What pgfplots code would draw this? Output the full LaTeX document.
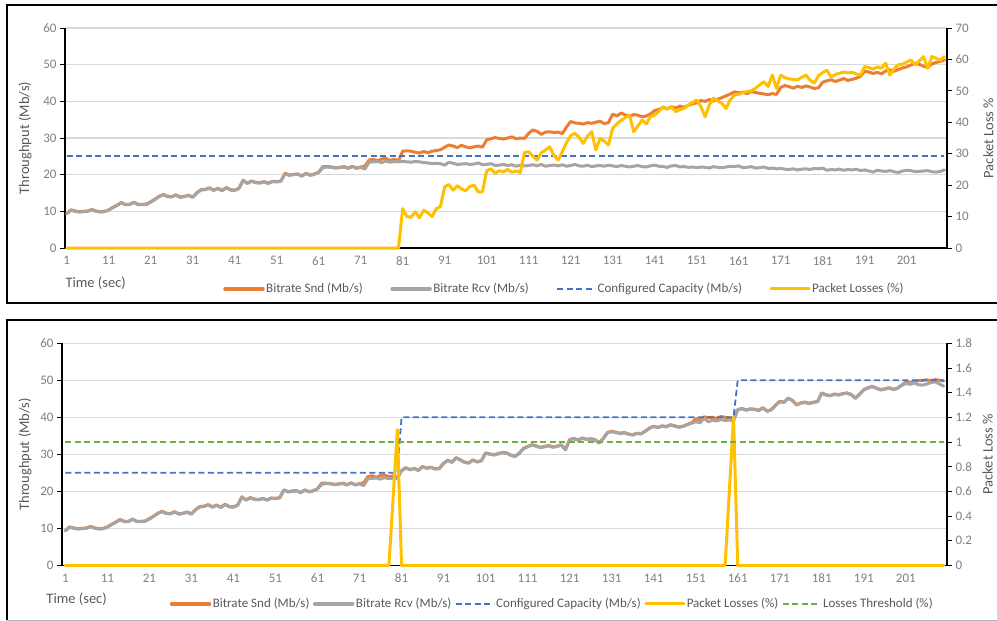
\documentclass[border=0pt]{standalone}
\usepackage{pgfplots}
\pgfplotsset{compat=1.18}
\usepackage{pgfplotstable}
\usepackage{fontspec}
\setmainfont{Carlito}
\definecolor{cOrange}{HTML}{ED7D31}
\definecolor{cGray}{HTML}{A5A5A5}
\definecolor{cBlue}{HTML}{4472C4}
\definecolor{cYellow}{HTML}{FFC000}
\definecolor{cGreen}{HTML}{70AD47}
\definecolor{cGrid}{HTML}{D9D9D9}
\definecolor{cTick}{HTML}{7F7F7F}
\definecolor{cTitle}{HTML}{595959}

\pgfplotstableread{
t rT sT lT rB sB
1 9.3 9.4 0 9.3 9.4
2 10.3 10.4 0 10.3 10.4
3 10.0 10.1 0 10.0 10.1
4 9.8 9.9 0 9.8 9.9
5 9.9 10.0 0 9.9 10.0
6 10.0 10.1 0 10.0 10.1
7 10.4 10.5 0 10.4 10.5
8 10.0 10.1 0 10.0 10.1
9 9.8 9.9 0 9.8 9.9
10 9.9 10.0 0 9.9 10.0
11 10.3 10.4 0 10.3 10.4
12 11.0 11.1 0 11.0 11.1
13 11.6 11.7 0 11.6 11.7
14 12.3 12.4 0 12.3 12.4
15 11.8 11.9 0 11.8 11.9
16 11.8 11.9 0 11.8 11.9
17 12.4 12.5 0 12.4 12.5
18 11.8 11.9 0 11.8 11.9
19 11.8 11.9 0 11.8 11.9
20 11.9 12.0 0 11.9 12.0
21 12.5 12.6 0 12.5 12.6
22 13.2 13.3 0 13.2 13.3
23 14.0 14.1 0 14.0 14.1
24 14.5 14.6 0 14.5 14.6
25 14.0 14.1 0 14.0 14.1
26 13.9 14.0 0 13.9 14.0
27 14.4 14.5 0 14.4 14.5
28 13.8 13.9 0 13.8 13.9
29 14.0 14.1 0 14.0 14.1
30 14.3 14.4 0 14.3 14.4
31 13.8 13.9 0 13.8 13.9
32 15.0 15.1 0 15.0 15.1
33 15.8 15.9 0 15.8 15.9
34 15.9 16.0 0 15.9 16.0
35 16.3 16.4 0 16.3 16.4
36 15.7 15.8 0 15.7 15.8
37 16.2 16.3 0 16.2 16.3
38 15.6 15.7 0 15.6 15.7
39 16.4 16.5 0 16.4 16.5
40 15.8 15.9 0 15.8 15.9
41 15.7 15.8 0 15.7 15.8
42 16.2 16.3 0 16.2 16.3
43 18.4 18.5 0 18.4 18.5
44 17.6 17.7 0 17.6 17.7
45 18.2 18.3 0 18.2 18.3
46 17.8 17.9 0 17.8 17.9
47 17.7 17.8 0 17.7 17.8
48 18.0 18.1 0 18.0 18.1
49 17.6 17.7 0 17.6 17.7
50 18.1 18.2 0 18.1 18.2
51 18.0 18.1 0 18.0 18.1
52 18.2 18.3 0 18.2 18.3
53 20.3 20.4 0 20.3 20.4
54 19.8 19.9 0 19.8 19.9
55 20.0 20.1 0 20.0 20.1
56 20.1 20.2 0 20.1 20.2
57 19.6 19.7 0 19.6 19.7
58 20.3 20.4 0 20.3 20.4
59 19.8 19.9 0 19.8 19.9
60 20.1 20.2 0 20.1 20.2
61 20.6 20.7 0 20.6 20.7
62 21.9 22.2 0 21.9 22.2
63 22.1 22.2 0 22.1 22.2
64 22.0 22.1 0 22.0 22.1
65 21.8 21.9 0 21.8 21.9
66 21.9 22.0 0 21.9 22.0
67 22.1 22.2 0 22.1 22.2
68 21.7 21.8 0 21.7 21.8
69 22.2 22.3 0 22.2 22.3
70 21.7 21.8 0 21.7 21.8
71 22.0 22.1 0 22.0 22.1
72 21.5 22.3 0 21.5 22.3
73 23.4 24.0 0 23.4 24.0
74 23.5 24.2 0 23.5 24.2
75 23.6 23.8 0 23.6 23.8
76 23.3 24.3 0 23.3 24.3
77 23.7 24.4 0 23.7 24.4
78 23.4 23.9 0 23.4 23.9
79 23.6 24.2 0 23.6 24.2
80 23.5 23.8 0 23.5 23.8
81 23.6 26.4 12.5 25.5 25.6
82 23.5 26.5 10.0 26.3 26.4
83 23.4 26.4 9.8 25.8 25.9
84 23.6 26.1 11.5 26.1 26.2
85 23.5 25.9 9.6 25.6 25.7
86 23.3 26.3 12.0 26.6 26.7
87 23.2 26.0 11.2 26.2 26.3
88 23.0 26.4 10.0 26.4 26.5
89 23.1 26.6 12.5 26.0 26.1
90 23.0 26.8 13.2 26.1 26.2
91 22.6 27.5 19.5 27.5 27.6
92 23.4 28.1 20.2 28.3 28.4
93 23.1 27.8 18.4 27.8 27.9
94 22.8 27.4 19.8 29.0 29.1
95 22.9 28.0 18.8 28.4 28.5
96 23.0 27.6 18.2 27.8 27.9
97 22.8 27.3 19.6 27.6 27.7
98 22.9 27.6 20.0 28.4 28.5
99 23.2 27.8 17.8 27.9 28.0
100 22.7 27.5 17.9 28.2 28.3
101 22.8 29.5 24.6 30.3 30.4
102 23.0 29.8 25.2 30.0 30.1
103 22.5 30.1 23.8 29.8 29.9
104 22.6 29.9 24.6 30.1 30.2
105 22.8 29.7 24.2 30.4 30.5
106 22.5 30.0 25.0 30.3 30.4
107 22.7 30.3 24.1 29.7 29.8
108 22.3 29.8 24.5 29.4 29.5
109 22.6 30.0 24.0 30.2 30.3
110 22.4 29.9 30.4 31.5 31.6
111 22.5 31.3 30.6 32.0 32.1
112 22.7 32.2 29.2 32.5 32.6
113 22.4 31.8 28.0 32.2 32.3
114 22.8 31.0 30.3 31.8 31.9
115 22.3 31.6 31.2 32.0 32.1
116 22.5 31.7 32.2 32.3 32.4
117 22.6 31.5 29.5 31.9 32.0
118 22.4 31.6 28.0 32.1 32.2
119 22.7 31.2 30.6 32.5 32.6
120 22.3 33.0 33.5 31.2 31.3
121 22.5 34.5 35.8 33.9 34.0
122 22.8 34.1 36.5 34.2 34.3
123 22.4 34.0 35.2 33.8 33.9
124 22.3 33.8 33.3 34.3 34.4
125 22.6 34.2 35.6 34.0 34.1
126 22.2 34.0 37.0 34.1 34.2
127 22.4 34.3 31.2 33.9 34.0
128 22.5 34.6 34.9 33.0 33.1
129 22.3 33.9 34.0 34.2 34.3
130 22.6 34.2 32.8 35.8 35.9
131 22.4 36.5 38.1 36.1 36.2
132 22.2 36.0 39.5 35.9 36.0
133 22.5 36.8 40.6 35.6 35.7
134 22.3 36.3 41.5 35.8 35.9
135 22.1 35.9 42.3 35.4 35.5
136 22.3 36.4 37.0 35.2 35.3
137 22.5 36.2 38.8 35.6 35.7
138 22.2 35.8 40.7 35.5 35.6
139 22.1 36.0 39.5 36.2 36.3
140 22.4 36.6 41.8 37.0 37.1
141 22.6 37.5 42.3 37.5 37.6
142 22.3 37.8 43.5 37.2 37.3
143 22.2 38.3 45.0 37.6 37.7
144 22.0 38.0 44.2 37.4 37.5
145 22.4 38.5 44.8 37.9 38.0
146 22.5 38.2 43.4 37.6 37.7
147 22.1 38.7 44.0 37.3 37.4
148 22.2 38.4 44.4 37.5 37.6
149 22.0 38.9 45.5 38.0 38.1
150 22.1 39.3 46.3 38.4 38.5
151 21.9 39.6 47.1 38.8 39.6
152 22.1 40.2 45.0 38.5 39.2
153 22.0 40.0 41.8 39.7 40.1
154 21.8 40.5 45.5 38.8 39.9
155 22.2 40.1 47.7 39.2 40.0
156 22.0 40.6 46.8 39.0 39.7
157 21.9 41.0 46.0 39.4 40.2
158 22.1 41.5 44.4 39.1 40.0
159 22.3 42.0 47.2 39.3 39.8
160 22.2 42.6 48.7 39.0 39.6
161 22.4 42.3 48.9 42.0 42.1
162 21.9 42.5 49.5 42.3 42.4
163 22.0 42.1 49.8 41.9 42.0
164 22.2 42.7 50.0 42.2 42.3
165 21.8 42.4 50.8 42.1 42.2
166 21.9 42.2 51.9 41.8 41.9
167 22.1 42.0 52.9 42.5 42.6
168 21.7 41.8 51.4 41.6 41.7
169 21.8 42.1 55.0 42.0 42.1
170 21.6 41.9 50.8 43.2 43.3
171 21.7 43.8 55.0 44.2 44.3
172 21.5 44.3 54.2 44.0 44.1
173 21.4 44.0 53.8 45.1 45.2
174 21.6 43.6 53.6 44.5 44.6
175 21.3 44.1 53.5 43.3 43.4
176 21.5 43.8 54.3 43.8 43.9
177 21.6 44.2 55.0 44.0 44.1
178 21.4 43.9 53.4 43.7 43.8
179 21.7 43.5 52.5 44.0 44.1
180 21.6 43.7 54.8 44.2 44.3
181 21.8 45.2 55.8 46.5 46.6
182 21.2 45.6 56.6 46.0 46.1
183 21.4 45.9 54.4 45.8 45.9
184 21.3 45.4 55.2 46.2 46.3
185 21.5 45.8 55.6 46.0 46.1
186 21.2 46.2 56.0 46.3 46.4
187 21.4 45.7 55.7 46.5 46.6
188 21.3 46.0 55.9 46.1 46.2
189 21.5 46.3 55.4 45.1 45.2
190 21.1 46.8 55.0 46.2 46.3
191 21.3 48.2 57.7 47.4 47.5
192 21.0 48.0 57.4 47.9 48.0
193 20.7 47.6 56.9 48.3 48.4
194 21.2 47.9 57.6 47.8 47.9
195 21.0 47.5 57.2 47.4 47.5
196 20.9 48.3 58.8 47.6 47.7
197 21.1 48.6 55.0 47.9 48.0
198 20.8 48.2 57.0 47.5 47.6
199 20.6 48.7 58.3 47.8 47.9
200 21.0 49.1 58.5 48.6 48.7
201 21.2 49.4 59.2 49.2 49.5
202 21.1 49.9 59.8 48.9 49.3
203 20.8 50.4 58.3 49.3 49.7
204 20.9 50.1 59.5 48.8 49.9
205 21.0 49.6 60.9 48.7 50.0
206 21.1 49.3 57.2 49.0 50.1
207 20.8 50.2 60.9 49.4 49.9
208 20.7 50.6 60.4 49.6 50.2
209 20.9 50.9 59.8 49.0 50.0
210 21.3 51.3 60.9 48.4 49.8
}\data

\pgfplotsset{
  base/.style={
    scale only axis,
    xtick={1,11,...,201},
    xtick style={draw=none},
    ytick style={black,line width=0.9bp},
    major tick length=5bp,
    tick align=outside,
    tick label style={font=\fontsize{13bp}{15bp}\selectfont, text=cTick},
    /pgf/number format/assume math mode=true,
    label style={font=\fontsize{14.5bp}{17bp}\selectfont, text=cTitle},
    axis line style={black, line width=1.1bp},
    clip=false,
    every axis plot/.append style={line join=round, line cap=round},
    legend style={draw=none, fill=none, font=\fontsize{13bp}{15bp}\selectfont, text=cTitle,
      inner xsep=0pt, inner ysep=0pt, nodes={inner sep=1.5bp}},
    legend cell align=left,
    legend image code/.code={\draw[##1] (0bp,0bp) -- (38bp,0bp);},
  },
  prim/.style={base, axis x line*=bottom, axis y line*=left,
    ymin=0, ymax=60, ytick distance=10, ymajorgrids,
    grid style={cGrid, line width=1.2bp},
    ylabel={Throughput (Mb/s)}, xlabel={Time (sec)}},
  sec/.style={base, axis x line=none, axis y line*=right, xtick=\empty,
    axis line style={black, line width=1.6bp}},
  snd/.style={cOrange, line width=3bp},
  rcv/.style={cGray, line width=3bp},
  cap/.style={cBlue, line width=1.8bp, dash pattern=on 6bp off 3.5bp, line cap=butt},
  loss/.style={cYellow, line width=3bp},
  thr/.style={cGreen, line width=1.8bp, dash pattern=on 6bp off 3.5bp, line cap=butt},
}

\begin{document}
\begin{tikzpicture}
\draw[black, line width=2bp] (1005bp,-5bp) -- (7bp,-5bp) -- (7bp,-303bp) -- (1005bp,-303bp);
\draw[black, line width=1.6bp] (1005bp,-320bp) -- (7bp,-320bp) -- (7bp,-620bp);
\draw[black!30, line width=1bp] (7bp,-620bp) -- (1005bp,-620bp);

% ---------- top panel ----------
\begin{axis}[prim, at={(65bp,-248bp)}, anchor=south west, width=882bp, height=220bp,
  xmin=0.6, xmax=210.6,
  xlabel style={at={(axis description cs:-0.0034,-0.159)}, anchor=west},
  ylabel style={at={(axis description cs:-0.0454,0.5)}, anchor=center}]
\addplot[snd] table[x=t, y=sT] {\data};
\addplot[rcv] table[x=t, y=rT] {\data};
\addplot[cap] coordinates {(1,25) (210,25)};
\end{axis}
\begin{axis}[sec, at={(65bp,-248bp)}, anchor=south west, width=882bp, height=220bp,
  xmin=0.6, xmax=210.6, ymin=0, ymax=70, ytick distance=10,
  ylabel={Packet Loss \%},
  ylabel style={at={(axis description cs:1.047,0.5)}, anchor=center},
  legend columns=4,
  legend style={at={(axis description cs:0.566,-0.186)}, anchor=center,
    /tikz/every even column/.append style={column sep=26bp}}]
\addlegendimage{snd, line width=3.5bp}
\addlegendentry{Bitrate Snd (Mb/s)}
\addlegendimage{rcv, line width=3.5bp}
\addlegendentry{Bitrate Rcv (Mb/s)}
\addlegendimage{cap}
\addlegendentry{Configured Capacity (Mb/s)}
\addplot[loss] table[x=t, y=lT] {\data};
\addlegendentry{Packet Losses (\%)}
\end{axis}

% ---------- bottom panel ----------
\begin{axis}[prim, at={(62bp,-565.3bp)}, anchor=south west, width=885bp, height=222bp,
  xmin=0.2, xmax=210.8,
  xlabel style={at={(axis description cs:-0.0215,-0.152)}, anchor=west},
  ylabel style={at={(axis description cs:-0.0418,0.5)}, anchor=center}]
\addplot[snd] table[x=t, y=sB] {\data};
\addplot[rcv] table[x=t, y=rB] {\data};
\addplot[cap] coordinates {(1,25) (80,25) (81,40) (160,40) (161,50) (210,50)};
\end{axis}
\begin{axis}[sec, at={(62bp,-565.3bp)}, anchor=south west, width=885bp, height=222bp,
  xmin=0.2, xmax=210.8, ymin=0, ymax=1.8, ytick={0,0.2,...,1.8},
  ylabel={Packet Loss \%},
  ylabel style={at={(axis description cs:1.046,0.5)}, anchor=center},
  legend columns=5,
  legend style={at={(axis description cs:0.5537,-0.174)}, anchor=center,
    /tikz/every even column/.append style={column sep=2bp}}]
\addlegendimage{snd, line width=3.5bp}
\addlegendentry{Bitrate Snd (Mb/s)}
\addlegendimage{rcv, line width=3.5bp}
\addlegendentry{Bitrate Rcv (Mb/s)}
\addlegendimage{cap}
\addlegendentry{Configured Capacity (Mb/s)}
\addplot[loss] coordinates {(1,0) (78,0) (79,0.55) (80,1.1) (81,0) (158,0) (159,0.6) (160,1.2) (161,0) (210,0)};
\addlegendentry{Packet Losses (\%)}
\addplot[thr] coordinates {(1,1) (210,1)};
\addlegendentry{Losses Threshold (\%)}
\end{axis}

\pgfresetboundingbox
\path[use as bounding box] (0bp,0bp) rectangle (997bp,-621bp);
\end{tikzpicture}
\end{document}
